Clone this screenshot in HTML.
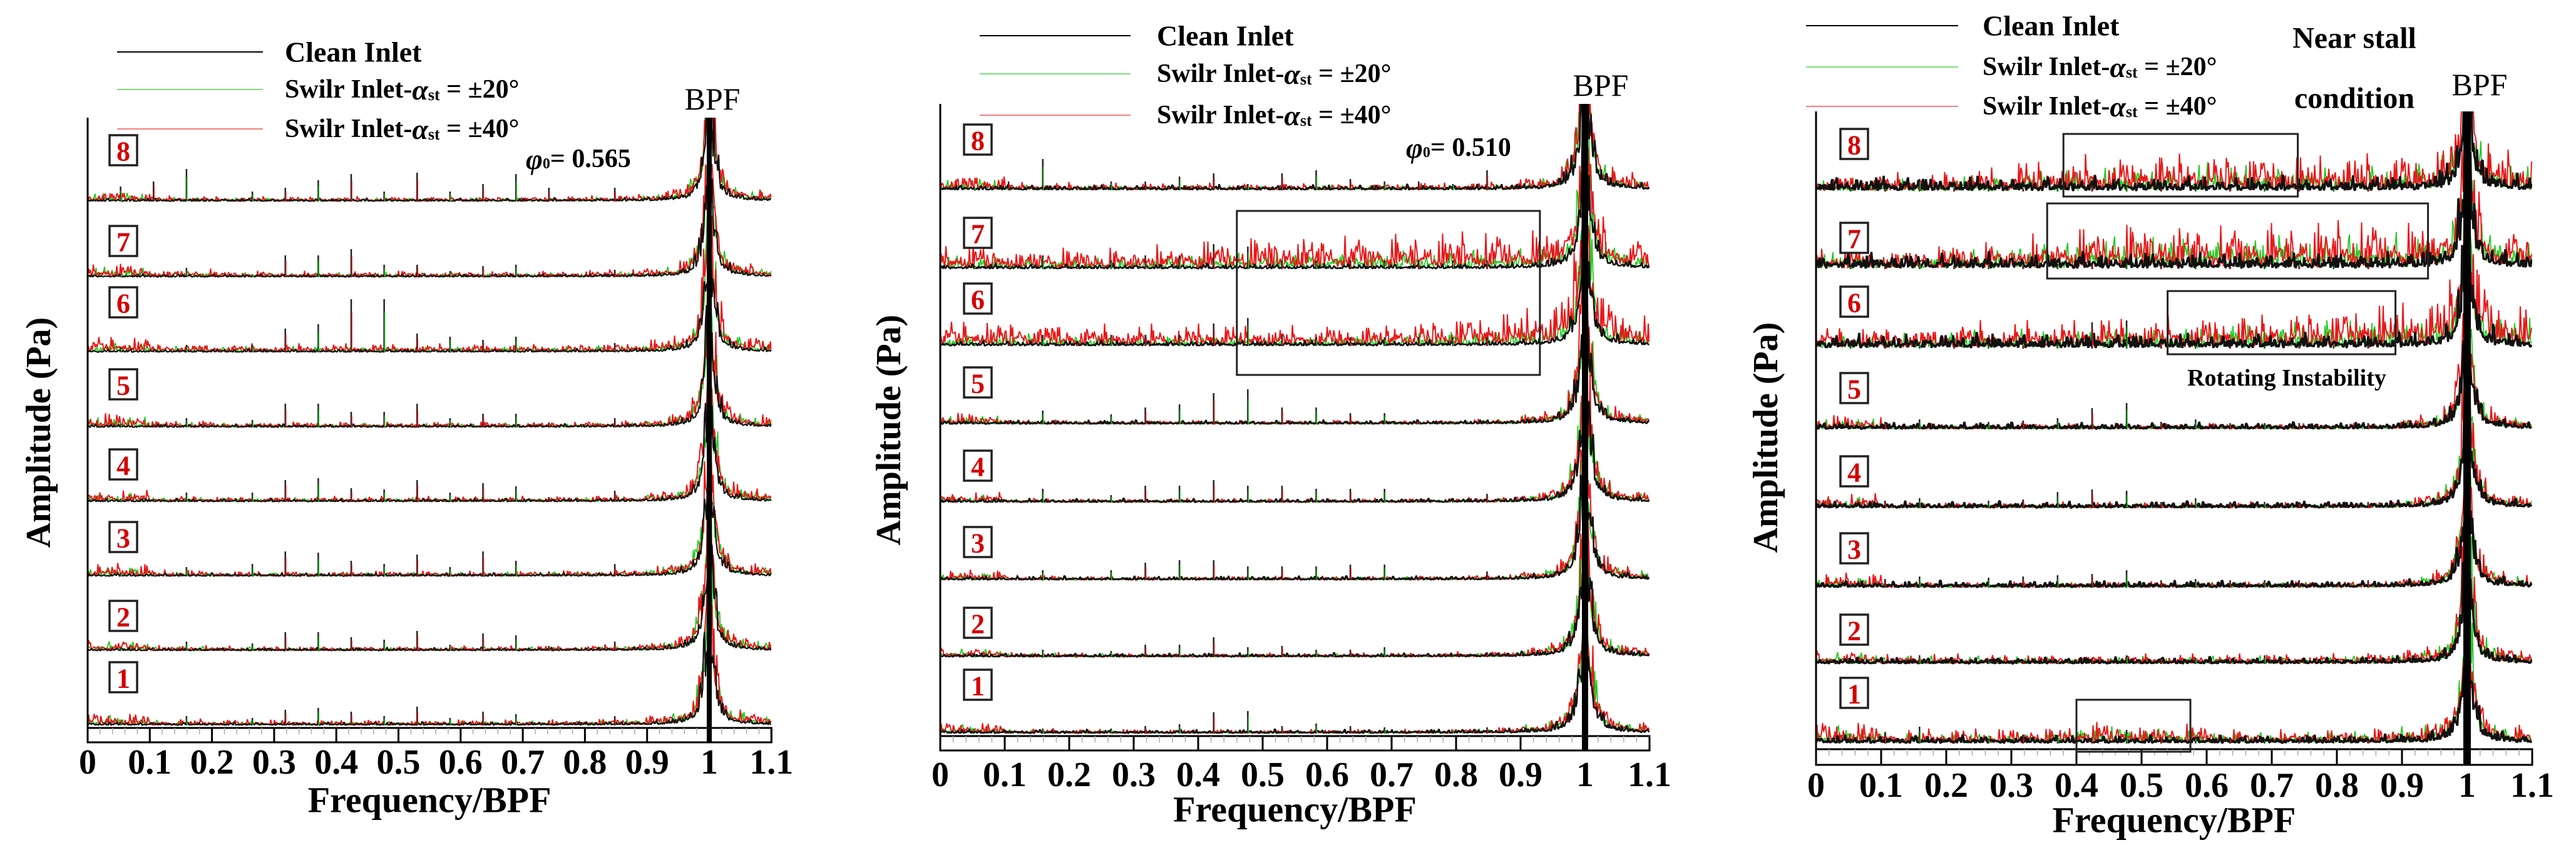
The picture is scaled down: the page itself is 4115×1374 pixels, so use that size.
<!DOCTYPE html>
<html><head><meta charset="utf-8">
<style>
html,body{margin:0;padding:0;background:#fff;}
svg{display:block;font-family:"Liberation Serif",serif;}
</style></head>
<body>
<svg id="fig" width="4115" height="1374" viewBox="0 0 4115 1374" xmlns="http://www.w3.org/2000/svg"></svg>
<script>
// ---------- DATA ----------
const freqTicks = [0,0.1,0.2,0.3,0.4,0.5,0.6,0.7,0.8,0.9,1,1.1];
const tickLabels = ["0","0.1","0.2","0.3","0.4","0.5","0.6","0.7","0.8","0.9","1","1.1"];
const traceLabels = ["1","2","3","4","5","6","7","8"];
const peakFreqs = [0.053,0.106,0.159,0.212,0.265,0.318,0.371,0.424,0.477,0.530,0.583,0.636,0.689,0.742,0.795,0.848];
const flowLabels = ["= 0.565","= 0.510",""];
const peaksA = [
 [5,5,15,3,12,25,28,22,15,30,12,22,18,8,3,15],
 [5,5,15,3,12,30,30,22,18,32,10,28,25,8,3,15],
 [5,5,15,3,20,40,38,25,20,35,15,40,25,8,3,20],
 [5,5,15,3,15,35,38,22,20,35,15,30,25,8,3,18],
 [5,5,15,3,12,38,38,25,25,38,15,22,22,8,3,15],
 [8,5,12,3,12,38,45,85,85,30,25,20,25,5,3,15],
 [5,5,15,3,5,35,35,45,20,20,10,18,20,5,3,12],
 [24,32,52,3,16,22,34,44,16,46,16,28,44,22,3,22]];
const peaksB = [
 [3,3,8,3,8,12,15,34,36,12,16,12,10,5,3,10],
 [3,3,12,3,10,20,20,32,16,18,12,12,16,5,3,8],
 [3,3,16,3,16,28,32,32,22,22,22,25,25,5,3,14],
 [3,3,22,3,12,27,27,36,27,27,22,22,22,5,3,14],
 [3,3,22,3,16,27,32,50,56,27,27,18,18,5,3,5],
 [5,5,18,5,18,18,18,36,45,18,14,14,14,14,14,14],
 [5,5,22,5,14,22,22,40,36,14,14,14,14,14,14,14],
 [5,14,50,5,14,14,22,27,10,27,32,18,14,14,10,32]];
const peaksC = [
 [3,18,27,3,8,14,10,10,22,10,10,10,5,5,3,5],
 [3,3,14,3,5,5,5,10,14,10,10,5,14,5,3,5],
 [3,14,18,3,16,18,20,22,28,12,14,12,12,12,3,12],
 [3,12,16,3,12,14,26,30,28,10,16,10,10,10,3,10],
 [3,12,16,3,12,14,18,34,42,12,16,10,10,10,3,10],
 [5,5,10,5,5,5,8,42,45,5,5,5,5,5,5,5],
 [5,5,10,5,5,5,8,10,10,5,5,5,5,5,5,5],
 [5,5,20,5,5,5,8,10,10,5,5,5,5,5,5,5]];
const noiseA = [
 [18,9,8,8,8,8,8,8,9,12,15],[16,8,7,7,7,7,7,7,8,12,14],[18,9,8,8,8,8,8,8,9,13,15],[16,9,8,8,8,8,8,8,9,13,15],
 [20,10,8,8,8,8,8,8,9,13,15],[24,13,12,12,12,12,12,12,13,16,18],[20,12,9,9,9,9,9,9,10,13,15],[16,8,7,7,7,7,7,7,8,12,14]];
const noiseB = [
 [16,7,6,6,6,6,6,6,7,11,13],[14,7,6,6,6,6,6,6,7,11,13],[14,7,6,6,6,6,6,6,7,11,13],[14,7,6,6,6,6,6,6,7,11,13],
 [16,7,6,6,6,6,6,6,7,11,13],[38,36,30,30,30,28,30,38,45,50,44],[36,30,30,35,43,50,52,52,52,50,44],[24,11,10,10,10,10,10,10,10,15,19]];
const noiseC = [
 [32,20,20,24,32,28,20,20,20,26,24],[20,14,14,14,14,14,14,14,16,20,20],[20,9,9,9,9,9,9,9,9,16,16],[20,9,9,9,9,9,9,9,9,16,16],
 [20,9,9,9,9,9,9,9,9,16,16],[32,32,38,38,44,44,50,56,62,62,62],[32,32,38,50,62,68,68,68,68,62,56],[26,26,32,44,50,56,56,50,50,50,50]];
const greenScaleA = [0.8,0.8,0.8,0.8,0.8,0.7,0.7,0.8];
const greenScaleB = [0.8,0.8,0.8,0.8,0.8,0.5,0.5,0.7];
const greenScaleC = [0.8,0.8,0.8,0.8,0.8,0.7,0.7,0.7];
const blackA = [5,5,5,5,5,5,5,5];
const blackB = [6,6,6,6,6,8,8,8];
const blackC = [12,10,10,10,10,22,24,22];
const bpfAmp = [320,320,320];
const bpfWidth = [0.009,0.01,0.009];
const noisePattern = [0.3,0.5,0.2,0.7,0.4,0.1,0.6,0.35,0.9,0.25,0.45,0.15,0.55,0.3,0.8,0.2,0.4,0.65,0.1,0.5,
 0.3,1.0,0.2,0.45,0.6,0.15,0.35,0.7,0.25,0.5,0.1,0.4,0.85,0.3,0.2,0.55,0.45,0.15,0.65,0.35,0.25,0.75,0.4,0.1,0.5,0.3,0.95,0.2,0.6,0.35];
const noisePattern2 = [1,0.6,0.9,0.4,1,0.8,0.5,1,0.7,0.95,0.3,0.85,1,0.6,0.75,0.9,0.45,1,0.65,0.8,0.55,1,0.7,0.4,0.9,0.6,1,0.8,0.5,0.7,0.95,0.35,0.85,0.6,1,0.75,0.5];
const boxes = [[1,0.46,0.93,337,599],[2,0.38,0.74,214,314],[2,0.355,0.94,325,445],[2,0.54,0.89,465,566],[2,0.40,0.575,1118,1201]];

// ---------- LAYOUT ----------
const P = [
 {x0:140,ppu:993,top:188,bottom:1186,strip:23,bases:[1159,1040,921,802,683,563,443,322],labY:[1082,984,858,742,614,483,385,240],labX:197,
  peaks:peaksA,noise:noiseA,gs:greenScaleA,blk:blackA,bw:8,legY:[83,143,206],legX0:187,legX1:420,legT:455,bpf:[1138,158],phi:[840,254],
  tickY:1218,titleY:1278,yTitle:[62,691],blkW:2.2},
 {x0:1502,ppu:1030,top:166,bottom:1199,strip:23,bases:[1172,1050,927,803,678,553,430,304],labY:[1094,995,866,744,611,477,372,223],labX:1562,
  peaks:peaksB,noise:noiseB,gs:greenScaleB,blk:blackB,bw:10,legY:[57,118,184],legX0:1565,legX1:1806,legT:1848,bpf:[2557,136],phi:[2246,236],
  tickY:1238,titleY:1293,yTitle:[1420,687],blkW:2.6},
 {x0:2901,ppu:1040,top:178,bottom:1222,strip:25,bases:[1188,1061,939,812,686,557,430,306],labY:[1107,1006,876,753,620,482,380,230],labX:2962,
  peaks:peaksC,noise:noiseC,gs:greenScaleC,blk:blackC,bw:12,legY:[41,107,170],legX0:2885,legX1:3128,legT:3167,bpf:[3961,135],phi:null,
  tickY:1255,titleY:1310,yTitle:[2821,699],blkW:3.5}
];
const NS='http://www.w3.org/2000/svg';
const svg=document.getElementById('fig');
function mk(tag,attrs,parent){const e=document.createElementNS(NS,tag);for(const k in attrs)e.setAttribute(k,attrs[k]);(parent||svg).appendChild(e);return e;}
function xs(p,f){return p.x0+f*p.ppu;}
function lorentz(pi,f){const w=bpfWidth[pi];const d=f-1;return bpfAmp[pi]*w*w/(d*d+w*w);}

P.forEach((p,pi)=>{
  const g=mk('g',{});
  
  
  const xEnd=xs(p,1.1);
  const clipId='clip'+pi;
  const cp=mk('clipPath',{id:clipId},g);
  mk('rect',{x:p.x0,y:p.top,width:xEnd-p.x0,height:p.bottom-p.strip-p.top},cp);
  const plot=mk('g',{'clip-path':'url(#'+clipId+')'},g);
  
  
  const series=[{c:'#22cc22',stride:7,off:3,s2:5,w:1.8},{c:'#e8191a',stride:3,off:11,s2:11,w:2.0},{c:'#111',stride:11,off:5,s2:3,w:p.blkW}];
  for(let t=0;t<8;t++){
    const base=p.bases[t];
    const tg=mk('g',{},plot);
    
    
    series.forEach((s,si)=>{
      const pts=[];const step=1.5;const N=Math.floor((xEnd-p.x0)/step);
      for(let i=0;i<=N;i++){
        const x=p.x0+i*step;const f=(x-p.x0)/p.ppu;
        const bin=Math.min(10,Math.floor(f*10));
        let lvl;
        if(si===1)lvl=p.noise[t][bin];else if(si===0)lvl=p.noise[t][bin]*p.gs[t];else lvl=p.blk[t];
        const pat=noisePattern[(i*s.stride+s.off+t*7)%noisePattern.length]*noisePattern2[(i*s.s2+t*3+si)%noisePattern2.length];
        let a=lvl*pat*1.2;
        a+=lorentz(pi,f)*(si===2?0.55:(si===1?0.7:0.65))*(0.55+pat);
        pts.push(x.toFixed(1)+','+(base-a).toFixed(1));
      }
      const pl=mk('polyline',{points:pts.join(' '),fill:'none',stroke:s.c,'stroke-width':s.w,'stroke-linejoin':'bevel'},tg);
      
      
    });
    peakFreqs.forEach((f,k)=>{
      const x=xs(p,f);const a=p.peaks[t][k];
      const l1=mk('line',{x1:x,x2:x,y1:base,y2:base-a,stroke:'#222','stroke-width':2.5},tg);
      
      
      const l2=mk('line',{x1:x+1,x2:x+1,y1:base,y2:base-a*0.75,stroke:(k%2?'#e8191a':'#22cc22'),'stroke-width':1.5},tg);
      
      
    });
  }
  const bl=mk('line',{x1:xs(p,1),x2:xs(p,1),y1:p.top,y2:p.bottom,stroke:'#000','stroke-width':p.bw},g);
  
  
  const ya=mk('line',{x1:p.x0,x2:p.x0,y1:p.top,y2:p.bottom,stroke:'#000','stroke-width':3},g);
  
  
  const strip=mk('rect',{x:p.x0,y:p.bottom-p.strip,width:xEnd-p.x0,height:p.strip,fill:'none',stroke:'#000','stroke-width':3},g);
  
  
  for(let m=0;m<=55;m++){
    const f=m*0.02;if(m%5===0)continue;
    const x=xs(p,f);
    const mt=mk('line',{x1:x,x2:x,y1:p.bottom-p.strip,y2:p.bottom-p.strip+10,stroke:'#aaa','stroke-width':1.5},g);
    
    
  }
  freqTicks.forEach((f,k)=>{
    const x=xs(p,f);
    const tk=mk('line',{x1:x,x2:x,y1:p.bottom-p.strip,y2:p.bottom,stroke:'#000','stroke-width':3},g);
    
    
    const tl=mk('text',{x:x,y:p.tickY,'text-anchor':'middle','dominant-baseline':'central','font-size':56,'font-weight':'bold'},g);
    tl.textContent=tickLabels[k];
    
    
  });
  const xt=mk('text',{x:(p.x0+xEnd)/2,y:p.titleY,'text-anchor':'middle','dominant-baseline':'central','font-size':58,'font-weight':'bold'},g);
  xt.textContent='Frequency/BPF';
  
  
  const yt=mk('text',{x:p.yTitle[0],y:p.yTitle[1],'text-anchor':'middle','dominant-baseline':'central','font-size':56,'font-weight':'bold',transform:'rotate(-90 '+p.yTitle[0]+' '+p.yTitle[1]+')'},g);
  yt.textContent='Amplitude (Pa)';
  
  
  for(let t=0;t<8;t++){
    const lg=mk('g',{},g);
    
    
    mk('rect',{x:p.labX-22,y:p.labY[t]-24,width:44,height:48,fill:'#fff',stroke:'#222','stroke-width':3.5},lg);
    const tx=mk('text',{x:p.labX,y:p.labY[t]+2,'text-anchor':'middle','dominant-baseline':'central','font-size':44,'font-weight':'bold',fill:'#d40000'},lg);
    tx.textContent=traceLabels[t];
  }
  const lgd=mk('g',{},g);
  
  
  const legC=['#000','#7be07b','#f08080'];
  const legT=['Clean Inlet','Swilr Inlet-','Swilr Inlet-'];
  const legS=['','= ±20°','= ±40°'];
  for(let k=0;k<3;k++){
    const ln=mk('line',{x1:p.legX0,x2:p.legX1,y1:p.legY[k],y2:p.legY[k],stroke:legC[k],'stroke-width':2},lgd);
    
    
    const te=mk('text',{x:p.legT,y:p.legY[k],'dominant-baseline':'central','font-size':k===0?46:42,'font-weight':'bold'},lgd);
    
    
    if(k===0){te.textContent=legT[0];}
    else{
      const a=mk('tspan',{},te);a.textContent=legT[k];
      const b=mk('tspan',{'font-style':'italic','font-size':46},te);b.textContent='α';
      const c=mk('tspan',{'font-size':26,dy:8},te);c.textContent='st';
      const d=mk('tspan',{dy:-8},te);d.textContent=' '+legS[k];
    }
  }
  const bp=mk('text',{x:p.bpf[0],y:p.bpf[1],'text-anchor':'middle','dominant-baseline':'central','font-size':50},g);
  bp.textContent='BPF';
  
  
  if(p.phi){
    const ph=mk('text',{x:p.phi[0],y:p.phi[1],'dominant-baseline':'central','font-size':42,'font-weight':'bold'},g);
    
    
    const a=mk('tspan',{'font-style':'italic','font-size':46},ph);a.textContent='φ';
    const b=mk('tspan',{'font-size':24,dy:8},ph);b.textContent='0';
    const c=mk('tspan',{dy:-8},ph);c.textContent=flowLabels[pi];
  }
});
boxes.forEach(b=>{
  const p=P[b[0]];
  const r=mk('rect',{x:xs(p,b[1]),y:b[3],width:(b[2]-b[1])*p.ppu,height:b[4]-b[3],fill:'none',stroke:'#222','stroke-width':3});
  
  
});
const ns1=mk('text',{x:3761,y:61,'text-anchor':'middle','dominant-baseline':'central','font-size':48,'font-weight':'bold'});
ns1.textContent='Near stall';


const ns2=mk('text',{x:3761,y:157,'text-anchor':'middle','dominant-baseline':'central','font-size':48,'font-weight':'bold'});
ns2.textContent='condition';


const ri=mk('text',{x:3653,y:604,'text-anchor':'middle','dominant-baseline':'central','font-size':38,'font-weight':'bold'});
ri.textContent='Rotating Instability';


</script>
</body></html>
